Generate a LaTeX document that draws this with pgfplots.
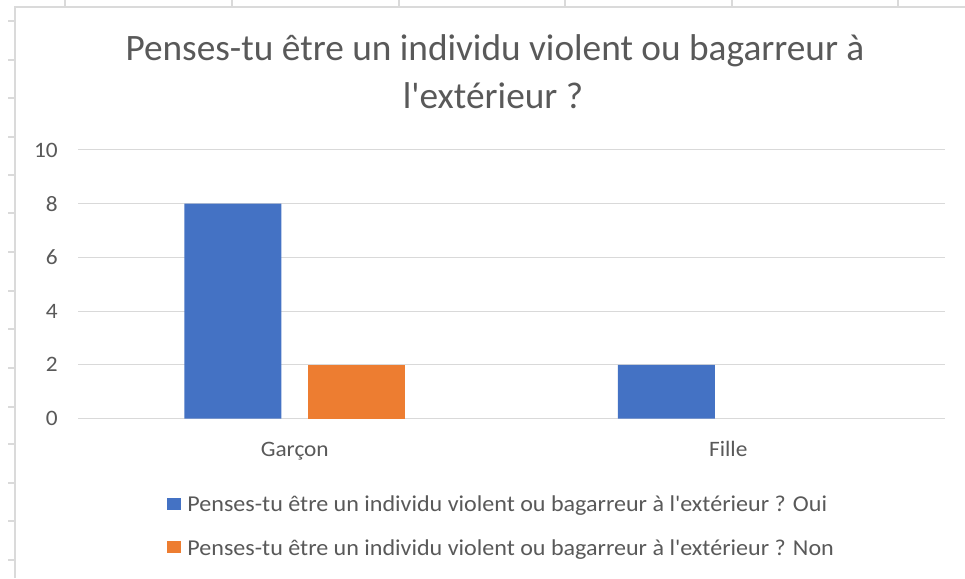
\documentclass[border=0pt]{standalone}
\usepackage{fontspec}
\setmainfont{Carlito}[Ligatures=TeXOff]
\newfontfamily\labfont{Carlito}[Ligatures=TeXOff, FakeStretch=1.06]
\usepackage{pgfplots}
\pgfplotsset{compat=1.18}
\pgfplotsset{sqleg/.style={legend image code/.code={\fill[##1] (0pt,-5.5pt) rectangle (14pt,6.5pt);}}}
\definecolor{barblue}{HTML}{4472C4}
\definecolor{barorange}{HTML}{ED7D31}
\definecolor{txtgray}{HTML}{595959}
\definecolor{gridgray}{HTML}{D9D9D9}
\definecolor{sheetgray}{HTML}{DADADA}
\begin{document}
\begin{tikzpicture}
\begin{scope}[x=1pt,y=1pt]
\useasboundingbox[fill=white] (0,0) rectangle (965,578);
\foreach \x in {65,232,399,565,732,898} \draw[sheetgray,line width=1.2pt] (\x,578) -- (\x,571);
\foreach \y in {21,60,98,137,175,213,252,291,329,368,407,444,483,521,560} \draw[sheetgray,line width=1.2pt] (8,578-\y) -- (15,578-\y);
\draw[sheetgray,line width=1.5pt] (15,0) -- (15,571) -- (965,571);
\node[anchor=base, font=\fontsize{37.3}{44}\selectfont, text=txtgray, inner sep=0pt] at (495,517) {Penses-tu être un individu violent ou bagarreur à};
\node[anchor=base, font=\fontsize{37.3}{44}\selectfont, text=txtgray, inner sep=0pt] at (493,469.5) {l'extérieur ?};
\end{scope}
\begin{axis}[
 at={(78pt,159.5pt)}, anchor=south west, scale only axis, width=867pt, height=268.5pt,
 xmin=-0.5, xmax=1.5, ymin=0, ymax=10,
 ybar, bar width=97pt,
 axis line style={draw=none}, tick style={draw=none}, major tick length=0pt,
 ymajorgrids, grid style={gridgray, line width=1pt},
 ytick={0,2,...,10}, xtick={0,1}, xticklabels={Garçon,Fille},
 ticklabel style={font=\labfont\fontsize{22}{26}\selectfont, text=txtgray},
 yticklabel style={anchor=east, inner sep=0pt, xshift=-20pt},
 xticklabel style={anchor=base, inner sep=0pt, yshift=-37.5pt},
 /pgf/number format/assume math mode=true,
 clip=false,
 legend cell align=left,
 legend style={at={(axis description cs:0.1025,-0.2886)}, anchor=north west, draw=none, fill=none,
   inner sep=0pt, outer sep=0pt, row sep=26pt, font=\labfont\fontsize{22.7}{27}\selectfont, text=txtgray,
   nodes={inner sep=0pt},
   /tikz/every odd column/.append style={column sep=6.6pt}},
]
\addplot[fill=barblue, draw=none, bar shift=-62pt, sqleg] coordinates {(0,8) (1,2)};
\addplot[fill=barorange, draw=none, bar shift=62pt, sqleg] coordinates {(0,2)};
\legend{Penses-tu être un individu violent ou bagarreur à l'extérieur ? Oui, Penses-tu être un individu violent ou bagarreur à l'extérieur ? Non}
\end{axis}
\end{tikzpicture}
\end{document}
